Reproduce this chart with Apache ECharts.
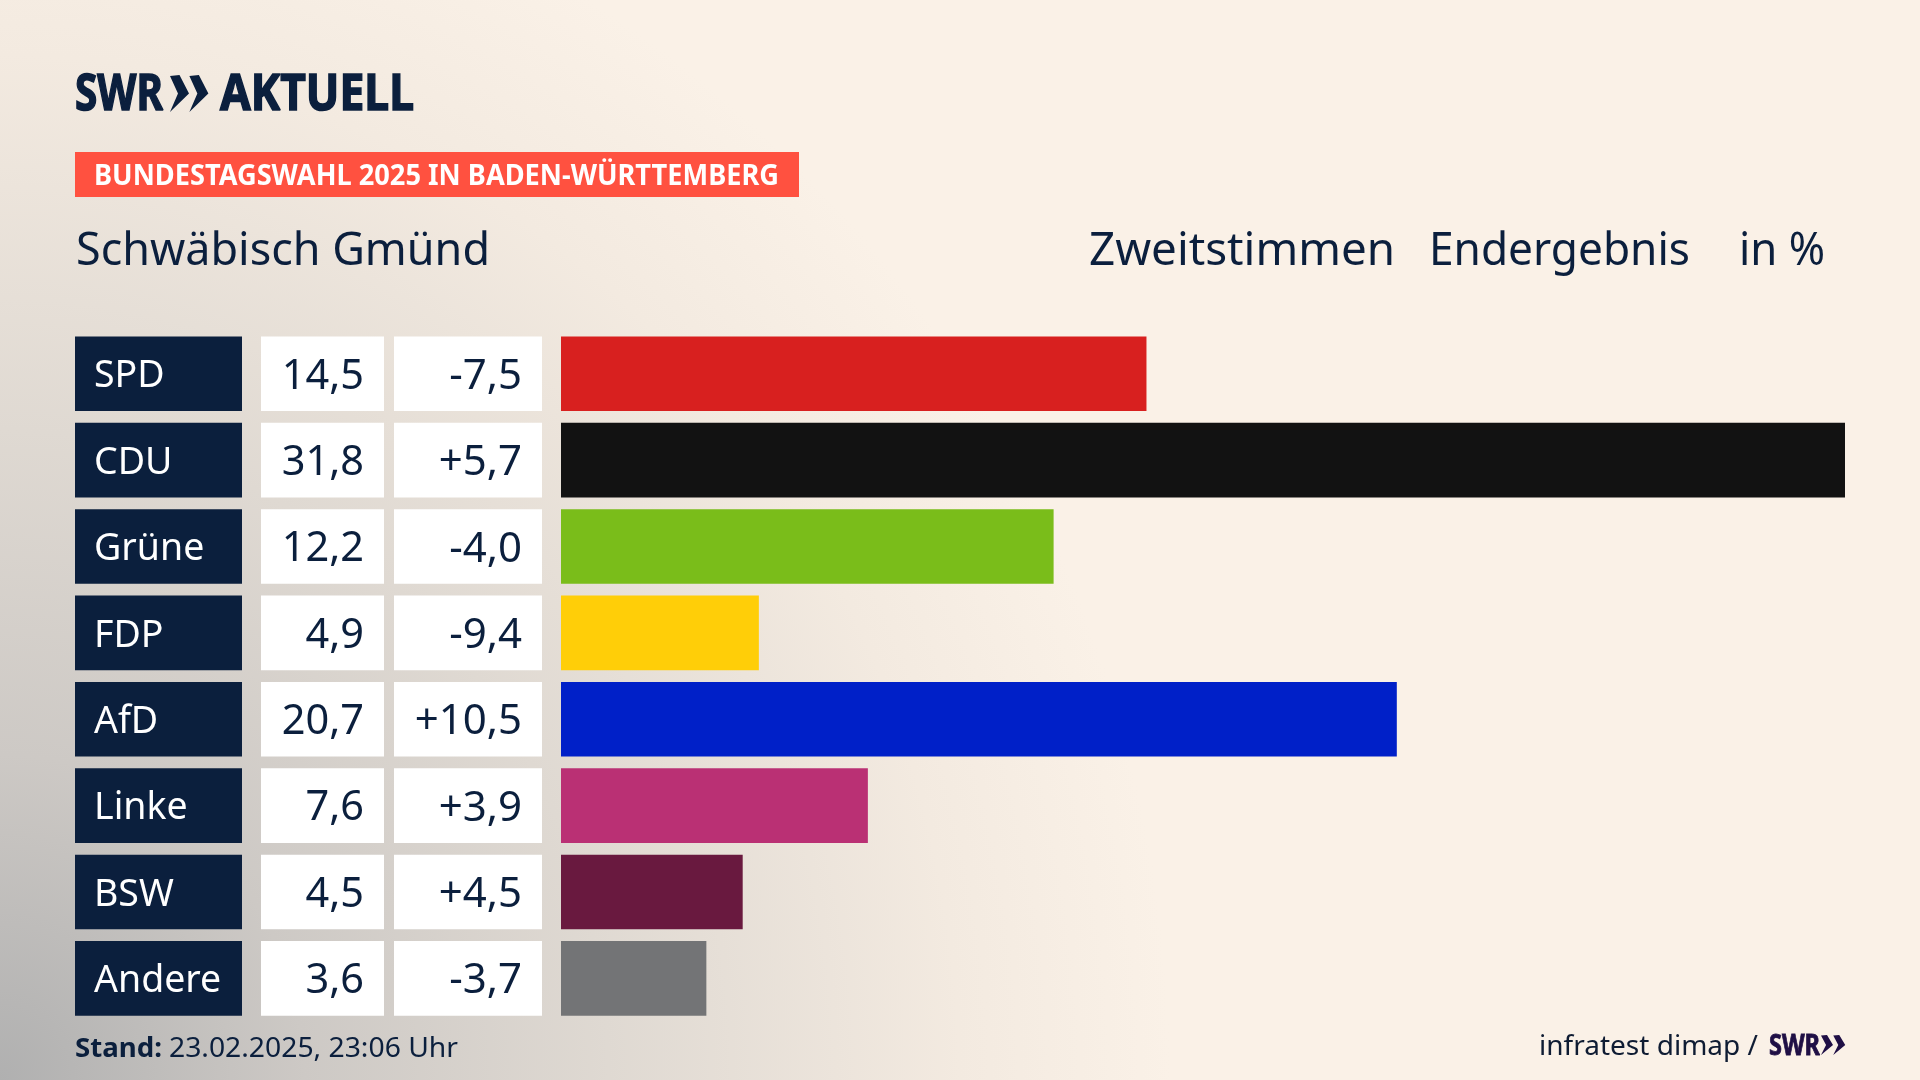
<!DOCTYPE html>
<html lang="de">
<head>
<meta charset="utf-8">
<title>Bundestagswahl 2025 – Schwäbisch Gmünd</title>
<script src="https://cdn.jsdelivr.net/npm/echarts@6/dist/echarts.min.js"></script>
<style>
html,body{margin:0;padding:0;width:1920px;height:1080px;overflow:hidden;
background:#faf1e7 radial-gradient(ellipse 1170px 1250px at 0 1080px,#b0b0b0 0%,#cdc9c5 26%,#dfd9d2 52%,#f3eae0 82%,#faf1e7 100%);}
#c{width:1920px;height:1080px}
</style>
</head>
<body>
<div id="c"></div>
<script>
const parties = ['SPD','CDU','Grüne','FDP','AfD','Linke','BSW','Andere'];
const results = [14.5,31.8,12.2,4.9,20.7,7.6,4.5,3.6];
const diffs = [-7.5,5.7,-4.0,-9.4,10.5,3.9,4.5,-3.7];
const barColors = ['#d8201f','#121212','#7abd1a','#ffce08','#0020c8','#ba3074','#69193f','#737476'];

const FONT = '"Noto Sans"';
const NAVY = '#0b1f3d';
const rowTop = 330.6, rowsH = 691, barH = 74.6;

const fmt = v => v.toFixed(1).replace('.', ',');
const fmtDiff = v => (v > 0 ? '+' : '') + fmt(v);

const meas = document.createElement('canvas').getContext('2d');
function text(str, x, baseline, size, weight, fill, width, heavy) {
  let sx = 1;
  if (width) {
    meas.font = `${weight} ${size}px ${FONT}`;
    sx = width / meas.measureText(str).width;
  }
  const style = { text:str, x:0, y:0, fill, font:`${weight} ${size}px ${FONT}`, textAlign:'left', textBaseline:'alphabetic' };
  if (heavy) { style.stroke = fill; style.lineWidth = heavy; }
  return { type:'text', x, y:baseline - 0.8 * size, scaleX:sx, silent:true, style };
}
function chevrons(x, y, h, w, fill) {
  const mk = dx => ({ type:'polygon', silent:true, style:{fill},
    shape:{ points:[[x+dx,y+h*0.03],[x+dx+w*0.5,y],[x+dx+w,y+h/2],[x+dx,y+h],[x+dx+w*0.42,y+h/2]] } });
  return [mk(0), mk(w*1.02)];
}

const gridOf = (left, width) => ({ left, width, top:rowTop, height:rowsH, containLabel:false });
const xOf = (gridIndex, max) => ({ type:'value', gridIndex, min:0, max, show:false });
const yOf = gridIndex => ({ type:'category', gridIndex, data:parties, inverse:true, show:false });
const boxSeries = (i, color, labelCfg) => ({
  type:'bar', xAxisIndex:i, yAxisIndex:i, barWidth:barH, silent:true, animation:false,
  data:parties.map(() => 1), itemStyle:{ color },
  label:Object.assign({ show:true, fontFamily:FONT, offset:[0,3] }, labelCfg)
});

const chart = echarts.init(document.getElementById('c'), null, { renderer:'canvas', width:1920, height:1080 });
chart.setOption({
  animation:false,
  backgroundColor:'transparent',
  grid:[ gridOf(75,167), gridOf(261,123), gridOf(394,148), gridOf(561,1284) ],
  xAxis:[ xOf(0,1), xOf(1,1), xOf(2,1), xOf(3,31.8) ],
  yAxis:[ yOf(0), yOf(1), yOf(2), yOf(3) ],
  series:[
    boxSeries(0, NAVY, { position:'insideLeft', distance:19, color:'#fff', fontSize:37.5,
      formatter:p => parties[p.dataIndex] }),
    boxSeries(1, '#fff', { position:'insideRight', distance:20, color:NAVY, fontSize:41.5,
      formatter:p => fmt(results[p.dataIndex]) }),
    boxSeries(2, '#fff', { position:'insideRight', distance:20, color:NAVY, fontSize:42,
      formatter:p => fmtDiff(diffs[p.dataIndex]) }),
    { type:'bar', xAxisIndex:3, yAxisIndex:3, barWidth:barH, silent:true, animation:false,
      data:results.map((v,i) => ({ value:v, itemStyle:{ color:barColors[i] } })) }
  ],
  graphic:[
    text('SWR', 75, 111, 50, 700, NAVY, 88, 1.5),
    ...chevrons(170, 75, 37, 19, NAVY),
    text('AKTUELL', 220, 111, 50, 700, NAVY, 194, 1.5),
    { type:'rect', silent:true, shape:{ x:75, y:152, width:724, height:45 }, style:{ fill:'#ff5140' } },
    text('BUNDESTAGSWAHL 2025 IN BADEN-WÜRTTEMBERG', 94, 185, 28, 700, '#fff', 685),
    text('Schwäbisch Gmünd', 76, 265.5, 45, 400, NAVY, 414),
    text('Zweitstimmen', 1089, 265.5, 45, 400, NAVY, 306),
    text('Endergebnis', 1429, 265.5, 45, 400, NAVY, 261),
    text('in %', 1739, 265.5, 45, 400, NAVY, 86),
    text('Stand:', 75, 1057, 27, 700, NAVY, 87),
    text('23.02.2025, 23:06 Uhr', 169, 1057, 27, 400, NAVY, 289),
    text('infratest dimap /', 1539, 1055.5, 28, 400, '#0f1c33', 219),
    text('SWR', 1769, 1055, 28, 700, '#1f0f45', 51, 0.8),
    ...chevrons(1821, 1035, 20, 12, '#1f0f45')
  ]
});
</script>
</body>
</html>
